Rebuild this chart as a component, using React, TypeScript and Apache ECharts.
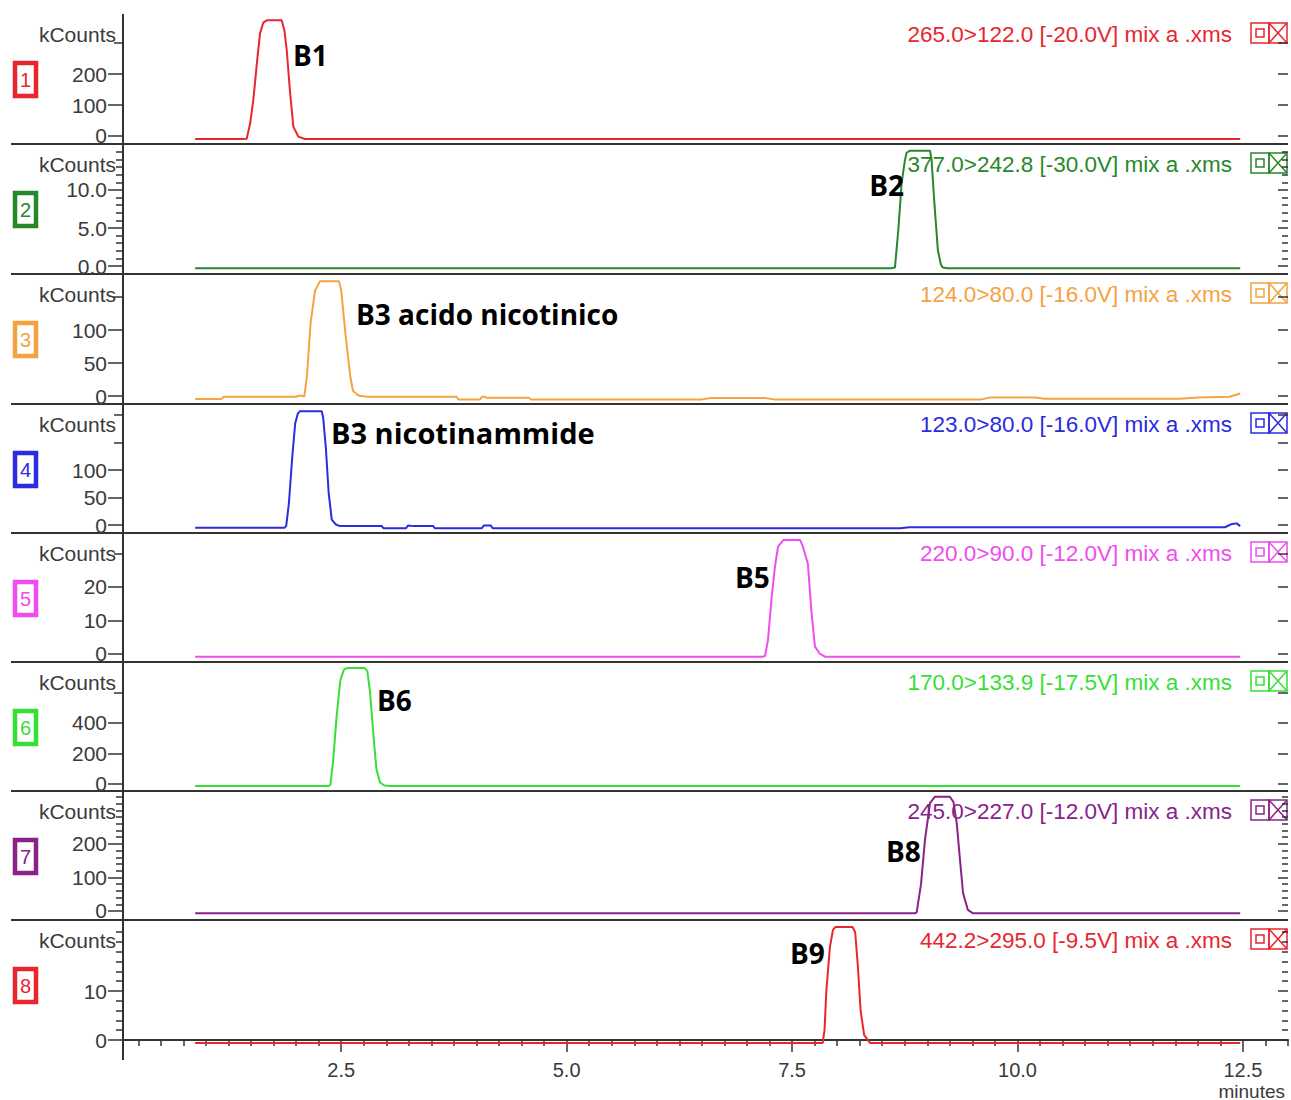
import React, { useEffect, useRef } from "react";
import * as echarts from "echarts";

// ---------- data ----------
const X_MIN = 0.08;
const X_MAX = 13.0;
const xMajorTicks = [2.5, 5.0, 7.5, 10.0, 12.5];
const xMinorTicks = [
  0.25, 0.5, 0.75, 1.0, 1.25, 1.5, 1.75, 2.0, 2.25, 2.75, 3.0, 3.25, 3.5, 3.75, 4.0, 4.25, 4.5, 4.75,
  5.25, 5.5, 5.75, 6.0, 6.25, 6.5, 6.75, 7.0, 7.25, 7.75, 8.0, 8.25, 8.5, 8.75, 9.0, 9.25, 9.5, 9.75,
  10.25, 10.5, 10.75, 11.0, 11.25, 11.5, 11.75, 12.0, 12.25, 12.75, 13.0,
];

const channelIds = ["1", "2", "3", "4", "5", "6", "7", "8"];
const channelTitles = [
  "265.0>122.0 [-20.0V] mix a .xms",
  "377.0>242.8 [-30.0V] mix a .xms",
  "124.0>80.0 [-16.0V] mix a .xms",
  "123.0>80.0 [-16.0V] mix a .xms",
  "220.0>90.0 [-12.0V] mix a .xms",
  "170.0>133.9 [-17.5V] mix a .xms",
  "245.0>227.0 [-12.0V] mix a .xms",
  "442.2>295.0 [-9.5V] mix a .xms",
];
const channelColors = ["#e8262e", "#27882a", "#f4a242", "#2b2be0", "#f04cf0", "#35e035", "#8a2289", "#e8262e"];
const peakLabels = ["B1", "B2", "B3 acido nicotinico", "B3 nicotinammide", "B5", "B6", "B8", "B9"];

const yRanges = [
  [-26, 394],
  [-1.05, 16.05],
  [-12, 184.8],
  [-14.5, 220],
  [-2.4, 36.1],
  [-46, 800],
  [-27, 358],
  [-1.63, 24.5],
];
const yLabelTicks = [[0, 100, 200], [0, 5, 10], [0, 50, 100], [0, 50, 100], [0, 10, 20], [0, 200, 400], [0, 100, 200], [0, 10]];
const yPlainTicks = [[300], [], [150], [150, 200], [30], [600], [], []];
const yMinorTicks = [
  [],
  [1, 2, 3, 4, 6, 7, 8, 9, 11, 12, 13, 14, 15],
  [],
  [],
  [],
  [],
  [20, 40, 60, 80, 120, 140, 160, 180, 220, 240, 260, 280, 300, 320, 340],
  [2, 4, 6, 8, 12, 14, 16, 18, 20, 22],
];
const yLabelDecimals = [0, 1, 0, 0, 0, 0, 0, 0];

// chromatograms: [minutes, kCounts]
const ch1 = [
  [0.88, -10], [1.4, -10], [1.452, -9], [1.49, 40], [1.525, 116], [1.57, 250], [1.6, 332], [1.636, 366],
  [1.68, 374], [1.84, 374], [1.87, 340], [1.896, 277], [1.93, 150], [1.969, 30], [2.024, -2], [2.098, -10],
  [12.47, -10],
];
const ch2 = [
  [0.88, -0.3], [8.6, -0.3], [8.641, -0.2], [8.68, 5], [8.715, 10.9], [8.75, 13.8], [8.77, 14.9], [8.808, 15.17],
  [9.03, 15.17], [9.047, 13.95], [9.08, 8], [9.117, 2.1], [9.15, 0.2], [9.17, -0.2], [9.22, -0.3], [12.47, -0.3],
];
const ch3 = [
  [0.88, -4.5], [1.17, -4.5], [1.2, -1], [2.0, -1], [2.03, 0.5], [2.07, 0.5], [2.09, -1], [2.12, 30],
  [2.16, 110], [2.21, 160], [2.265, 174], [2.475, 174], [2.5, 160], [2.55, 90], [2.6, 30], [2.63, 8],
  [2.68, 2], [2.71, 0], [2.8, -1], [3.78, -1], [3.8, -5], [4.04, -5], [4.06, -1], [4.09, -1], [4.11, -2.5],
  [4.58, -2.5], [4.6, -5], [6.5, -5], [6.6, -3], [7.2, -3], [7.3, -5], [9.6, -5], [9.7, -2], [10.2, -2],
  [10.3, -4], [11.8, -4], [12.0, -2], [12.35, -1], [12.47, 4],
];
const ch4 = [
  [0.88, -5], [1.87, -5], [1.89, -2], [1.92, 40], [1.96, 130], [1.99, 185], [2.02, 203], [2.043, 207],
  [2.284, 207], [2.3, 195], [2.33, 140], [2.36, 60], [2.395, 10], [2.44, 1], [2.487, -2], [2.95, -2],
  [2.97, -6], [3.22, -6], [3.24, -1], [3.3, -2], [3.52, -2], [3.54, -6], [4.06, -6], [4.08, -1], [4.16, -1],
  [4.18, -6], [8.7, -6], [8.8, -4], [12.3, -4], [12.38, 2], [12.43, 3], [12.47, -2],
];
const ch5 = [
  [0.88, -0.8], [7.18, -0.8], [7.2, -0.6], [7.233, 4.2], [7.274, 17], [7.31, 26], [7.344, 32], [7.403, 34],
  [7.59, 34], [7.62, 32], [7.675, 27], [7.717, 12], [7.754, 2.2], [7.81, 0], [7.865, -0.8], [12.47, -0.8],
];
const ch6 = [
  [0.88, -13], [2.36, -13], [2.38, -5], [2.41, 150], [2.45, 450], [2.49, 680], [2.53, 750], [2.56, 760],
  [2.76, 760], [2.79, 740], [2.82, 600], [2.86, 300], [2.89, 100], [2.93, 10], [2.98, -10], [3.05, -13],
  [12.47, -13],
];
const ch7 = [
  [0.88, -7], [8.86, -7], [8.882, -4], [8.93, 80], [8.974, 212], [9.03, 322], [9.085, 341], [9.25, 341],
  [9.29, 325], [9.326, 263], [9.36, 160], [9.396, 54], [9.45, 3], [9.507, -7], [12.47, -7],
];
const ch8 = [
  [0.88, -0.6], [7.84, -0.6], [7.86, 2], [7.88, 10], [7.92, 19], [7.954, 22.5], [7.98, 23.06], [8.17, 23.06],
  [8.2, 22], [8.23, 15], [8.26, 6], [8.3, 1], [8.364, -0.6], [12.47, -0.6],
];
const channels = [ch1, ch2, ch3, ch4, ch5, ch6, ch7, ch8];

// ---------- layout ----------
const W = 1291;
const H = 1100;
const AX_X = 123;
const RIGHT_X = 1288;
const panelTops = [14, 144, 274, 404, 533, 662, 791, 920];
const panelBottoms = [144, 274, 404, 533, 662, 791, 920, 1048];
const peakLabelPos = [
  { x: 293, y: 55, align: "left", size: 28 },
  { x: 904, y: 185, align: "right", size: 28 },
  { x: 356, y: 314, align: "left", size: 28 },
  { x: 331, y: 432, align: "left", size: 29 },
  { x: 735, y: 577, align: "left", size: 28 },
  { x: 377, y: 700, align: "left", size: 28 },
  { x: 886, y: 851, align: "left", size: 28 },
  { x: 790, y: 953, align: "left", size: 28 },
];

const AXIS_COLOR = "#333";
const TEXT_COLOR = "#3a3a3a";
const FONT = "'Liberation Sans', Arial, sans-serif";

function buildOption() {
  const grids: any[] = [];
  const xAxes: any[] = [];
  const yAxes: any[] = [];
  const series: any[] = [];
  const graphic: any[] = [];

  for (let i = 0; i < 8; i++) {
    const top = panelTops[i];
    const bottom = panelBottoms[i];
    const color = channelColors[i];
    grids.push({ left: AX_X, width: RIGHT_X - AX_X, top, height: bottom - top });

    const xIdx = xAxes.length;
    const last = i === 7;
    xAxes.push({
      type: "value",
      gridIndex: i,
      min: X_MIN,
      max: X_MAX,
      show: last,
      position: "bottom",
      axisLine: { show: last, lineStyle: { color: AXIS_COLOR, width: 2 } },
      axisTick: { show: last, customValues: xMajorTicks, length: 12, lineStyle: { color: AXIS_COLOR, width: 1.5 } },
      axisLabel: {
        show: last,
        customValues: xMajorTicks,
        margin: 12,
        fontSize: 20,
        fontFamily: FONT,
        color: TEXT_COLOR,
        formatter: (v: number) => v.toFixed(1),
      },
      splitLine: { show: false },
    });
    if (last) {
      xAxes.push({
        type: "value",
        gridIndex: i,
        min: X_MIN,
        max: X_MAX,
        position: "bottom",
        axisLine: { show: false },
        axisTick: { show: true, customValues: xMinorTicks, length: 6, lineStyle: { color: AXIS_COLOR, width: 1.5 } },
        axisLabel: { show: false },
        splitLine: { show: false },
      });
    }

    const [ymin, ymax] = yRanges[i];
    const base = { type: "value", gridIndex: i, min: ymin, max: ymax, splitLine: { show: false }, axisLine: { show: false } };
    const yIdx = yAxes.length;
    const dec = yLabelDecimals[i];
    yAxes.push({
      ...base,
      position: "left",
      axisTick: { show: true, customValues: yLabelTicks[i], length: 15, lineStyle: { color: AXIS_COLOR, width: 1.5 } },
      axisLabel: {
        show: true,
        customValues: yLabelTicks[i],
        margin: 16,
        fontSize: 21,
        fontFamily: FONT,
        color: TEXT_COLOR,
        formatter: (v: number) => v.toFixed(dec),
      },
    });
    if (yPlainTicks[i].length) {
      yAxes.push({
        ...base,
        position: "left",
        axisTick: { show: true, customValues: yPlainTicks[i], length: 9, lineStyle: { color: AXIS_COLOR, width: 1.5 } },
        axisLabel: { show: false },
      });
    }
    if (yMinorTicks[i].length) {
      yAxes.push({
        ...base,
        position: "left",
        axisTick: { show: true, customValues: yMinorTicks[i], length: 7, lineStyle: { color: AXIS_COLOR, width: 1.5 } },
        axisLabel: { show: false },
      });
    }
    yAxes.push({
      ...base,
      position: "right",
      axisTick: {
        show: true,
        inside: true,
        customValues: [...yLabelTicks[i], ...yPlainTicks[i]],
        length: 10,
        lineStyle: { color: AXIS_COLOR, width: 1.5 },
      },
      axisLabel: { show: false },
    });
    if (yMinorTicks[i].length) {
      yAxes.push({
        ...base,
        position: "right",
        axisTick: { show: true, inside: true, customValues: yMinorTicks[i], length: 6, lineStyle: { color: AXIS_COLOR, width: 1.5 } },
        axisLabel: { show: false },
      });
    }

    series.push({
      type: "line",
      xAxisIndex: xIdx,
      yAxisIndex: yIdx,
      data: channels[i],
      showSymbol: false,
      symbol: "none",
      lineStyle: { color, width: 2 },
      clip: true,
      silent: true,
    });

    // kCounts label
    graphic.push({
      type: "text",
      x: 116,
      y: top + 20,
      style: { text: "kCounts", fill: TEXT_COLOR, fontSize: 21, fontFamily: FONT, align: "right", verticalAlign: "middle" },
    });
    // title
    graphic.push({
      type: "text",
      x: 1232,
      y: top + 20,
      style: { text: channelTitles[i], fill: color, fontSize: 22.5, fontFamily: FONT, align: "right", verticalAlign: "middle" },
    });
    // channel number box
    graphic.push({
      type: "rect",
      shape: { x: 15, y: top + 49, width: 21, height: 33 },
      style: { fill: "#fff", stroke: color, lineWidth: 4.5 },
    });
    graphic.push({
      type: "text",
      x: 25.5,
      y: top + 66,
      style: { text: channelIds[i], fill: color, fontSize: 20, fontFamily: FONT, align: "center", verticalAlign: "middle" },
    });
    // icons at right
    graphic.push({
      type: "rect",
      shape: { x: 1251, y: top + 9, width: 18, height: 20 },
      style: { fill: "none", stroke: color, lineWidth: 1.5 },
    });
    graphic.push({
      type: "rect",
      shape: { x: 1256, y: top + 15, width: 8, height: 8 },
      style: { fill: "none", stroke: color, lineWidth: 1.5 },
    });
    graphic.push({
      type: "rect",
      shape: { x: 1269, y: top + 9, width: 18, height: 20 },
      style: { fill: "none", stroke: color, lineWidth: 1.5 },
    });
    graphic.push({
      type: "line",
      shape: { x1: 1269, y1: top + 9, x2: 1287, y2: top + 29 },
      style: { stroke: color, lineWidth: 1.5 },
    });
    graphic.push({
      type: "line",
      shape: { x1: 1287, y1: top + 9, x2: 1269, y2: top + 29 },
      style: { stroke: color, lineWidth: 1.5 },
    });
    // peak label
    const p = peakLabelPos[i];
    graphic.push({
      type: "text",
      x: p.x,
      y: p.y,
      z: 100,
      style: {
        text: peakLabels[i],
        fill: "#000",
        fontSize: p.size,
        fontWeight: "bold",
        fontFamily: "'Open Sans', 'DejaVu Sans', sans-serif",
        align: p.align,
        verticalAlign: "middle",
      },
    });
  }

  // panel separators
  for (let i = 1; i < 8; i++) {
    graphic.push({
      type: "line",
      shape: { x1: 11, y1: panelTops[i], x2: RIGHT_X, y2: panelTops[i] },
      style: { stroke: AXIS_COLOR, lineWidth: 2 },
    });
  }
  // shared vertical axis line
  graphic.push({
    type: "line",
    shape: { x1: AX_X, y1: panelTops[0], x2: AX_X, y2: 1060 },
    style: { stroke: AXIS_COLOR, lineWidth: 2 },
  });
  // x axis name
  graphic.push({
    type: "text",
    x: 1285,
    y: 1091,
    style: { text: "minutes", fill: TEXT_COLOR, fontSize: 19, fontFamily: FONT, align: "right", verticalAlign: "middle" },
  });

  return {
    animation: false,
    backgroundColor: "#ffffff",
    grid: grids,
    xAxis: xAxes,
    yAxis: yAxes,
    series,
    graphic: { elements: graphic },
  };
}

export default function App() {
  const ref = useRef<HTMLDivElement>(null);
  useEffect(() => {
    if (!ref.current) return;
    const chart = echarts.init(ref.current, undefined, { renderer: "svg" });
    chart.setOption(buildOption());
    return () => chart.dispose();
  }, []);
  return <div ref={ref} style={{ position: "absolute", left: 0, top: 0, width: W, height: H, background: "#fff" }} />;
}
